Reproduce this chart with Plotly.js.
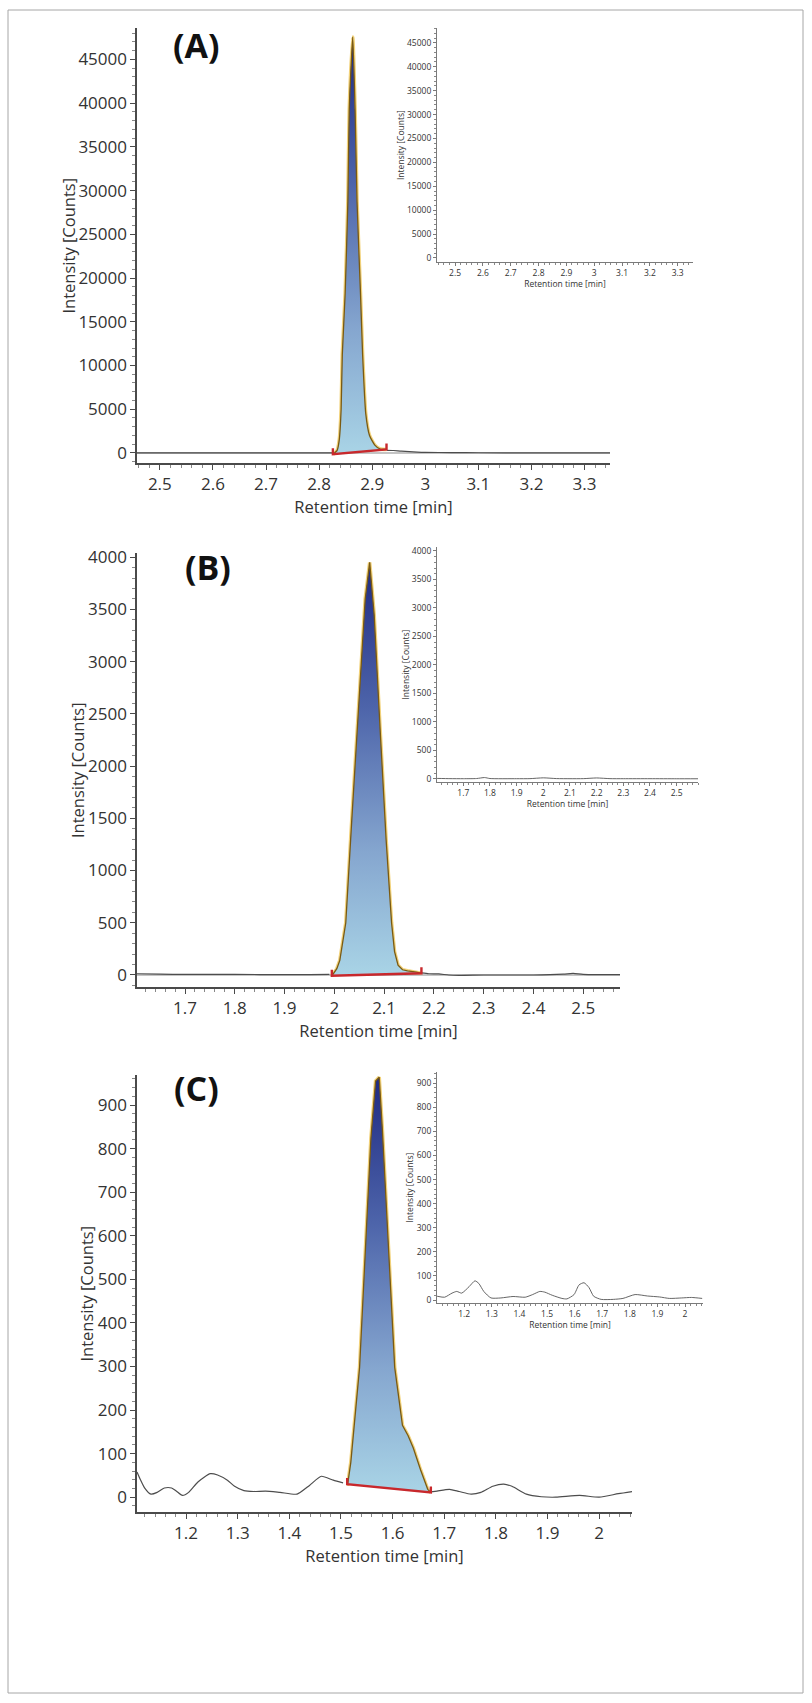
<!DOCTYPE html>
<html><head><meta charset="utf-8">
<script src="https://cdn.plot.ly/plotly-3.0.1.min.js"></script>
<style>html,body{margin:0;padding:0;background:#fff}#chart{width:812px;height:1703px}</style>
</head><body><div id="chart"></div>
<script>
// ---------- DATA ----------
// Panel A chromatogram (retention time [min], intensity [counts])
const chromA_t = [2.457,2.5,2.6,2.7,2.8,2.826,2.834,2.838,2.8415,2.8437,2.8491,2.8542,2.8568,2.8634,2.8678,2.8715,2.878,2.882,2.8879,2.895,2.905,2.915,2.927,2.94,2.955,2.97,2.985,3.0,3.05,3.1,3.2,3.3,3.348];
const chromA_i = [0,0,0,0,0,0,300,1500,5000,11236,18238,28741,39245,47560,39245,28741,18238,11236,4500,2000,900,450,300,280,200,150,100,70,40,20,10,0,0];
const integA_t = [2.826, 2.927];
const integA_b = [-150, 400];

// Panel B chromatogram
const chromB_t = [1.6035,1.65,1.7,1.77,1.8,1.9,1.95,1.99,1.997,2.005,2.011,2.017,2.023,2.035,2.048,2.062,2.071,2.080,2.092,2.104,2.115,2.121,2.128,2.137,2.147,2.156,2.165,2.175,2.19,2.21,2.23,2.25,2.3,2.4,2.46,2.48,2.5,2.574];
const chromB_i = [12,8,5,6,5,4,4,5,5,60,140,300,500,1480,2550,3600,3950,3450,2350,1300,500,224,93,50,40,35,28,20,12,10,0,-3,0,0,8,15,5,3];
const integB_t = [1.995, 2.175];
const integB_b = [-8, 16];
// Panel B inset (blank)
const insetB_t = [1.602,1.65,1.7,1.75,1.78,1.8,1.9,1.95,2.0,2.05,2.1,2.15,2.2,2.25,2.3,2.4,2.5,2.58];
const insetB_i = [10,6,5,8,25,8,5,6,20,7,5,6,18,6,5,5,4,4];

// Panel C chromatogram
const chromC_t = [1.105,1.111,1.120,1.132,1.144,1.158,1.172,1.181,1.193,1.205,1.223,1.247,1.261,1.280,1.294,1.312,1.331,1.354,1.382,1.415,1.439,1.462,1.485,1.504,1.513,1.519,1.527,1.536,1.558,1.567,1.574,1.580,1.604,1.614,1.619,1.630,1.640,1.654,1.668,1.674,1.686,1.710,1.729,1.752,1.771,1.794,1.815,1.831,1.859,1.888,1.916,1.962,2.0,2.037,2.0635];
const chromC_i = [58,42,21,7,11,21,21,14,4,11,35,54,51,39,25,15,13,14,11,7,27,48,39,33,30,80,183,298,825,955,964,846,298,200,165,141,113,63,18,12,14,18,13,7,11,25,30,25,7,1,0,4,0,8,13];
const integC_t = [1.512, 1.674];
const integC_b = [30, 11];
// Panel C inset (blank)
const insetC_t = [1.102,1.129,1.156,1.173,1.191,1.218,1.239,1.253,1.271,1.297,1.333,1.377,1.421,1.448,1.474,1.492,1.519,1.554,1.572,1.598,1.616,1.634,1.652,1.669,1.696,1.740,1.775,1.819,1.864,1.908,1.943,1.988,2.023,2.062];
const insetC_i = [16,12,29,36,29,56,80,69,36,9,9,15,12,23,36,33,20,7,5,23,63,72,52,16,3,3,7,23,17,13,7,9,11,7];

const panelLabels = ['(A)', '(B)', '(C)'];
const xTitle = 'Retention time [min]';
const yTitle = 'Intensity [Counts]';

// ---------- STYLE / LAYOUT ----------
const W = 812, H = 1703;
const FONT = 'Open Sans, sans-serif';
const px = v => v / W, py = v => 1 - v / H;

const panels = [
  {main:{xd:[137,610], yd:[28,463], xr:[2.457,3.348], yr:[-1150,48600], dy:5000, my:1000, zero:true, ty:68},
   inset:{xd:[437,693], yd:[28,262], xr:[2.435,3.355], yr:[-840,48100], dy:5000, my:1000, ty:400},
   t:chromA_t, v:chromA_i, it:integA_t, ib:integA_b, lab:[196,45], inT:null, inV:null, smooth:true},
  {main:{xd:[137,620], yd:[553,987], xr:[1.6035,2.574], yr:[-115,4040], dy:500, my:100, zero:true, ty:77},
   inset:{xd:[437,698], yd:[547,782], xr:[1.6015,2.58], yr:[-53,4070], dy:500, my:100, ty:405},
   t:chromB_t, v:chromB_i, it:integB_t, ib:integB_b, lab:[208,567], inT:insetB_t, inV:insetB_i, smooth:false},
  {main:{xd:[137,632], yd:[1075,1512], xr:[1.105,2.0635], yr:[-34,969], dy:100, my:20, zero:false, ty:86},
   inset:{xd:[437,703], yd:[1072,1303], xr:[1.1015,2.065], yr:[-12,946], dy:100, my:20, ty:409},
   t:chromC_t, v:chromC_i, it:integC_t, ib:integC_b, lab:[196,1088], inT:insetC_t, inV:insetC_i, smooth:false}
];

const layout = {
  width: W, height: H, margin:{l:0,r:0,t:0,b:0}, paper_bgcolor:'#fff', plot_bgcolor:'rgba(0,0,0,0)',
  showlegend:false, font:{family:FONT, color:'#333'},
  shapes:[{type:'rect', xref:'paper', yref:'paper', x0:px(8), x1:px(803), y0:py(1693), y1:py(10),
           line:{color:'#a6a6a6', width:1}}],
  annotations:[]
};
const data = [];

function axisPair(n, cfg, isInset) {
  const xs = n === 1 ? 'xaxis' : 'xaxis' + n, ys = n === 1 ? 'yaxis' : 'yaxis' + n;
  const xa = n === 1 ? 'x' : 'x' + n, ya = n === 1 ? 'y' : 'y' + n;
  const tf = isInset ? 8.5 : 17, ttf = isInset ? 8.5 : 16.5;
  const lc = isInset ? '#7a7a7a' : '#4a4a4a', lw = isInset ? 1 : 1.6;
  layout[xs] = {domain:[px(cfg.xd[0]), px(cfg.xd[1])], range:cfg.xr, anchor:ya, showgrid:false, zeroline:false,
    showline:true, linecolor:lc, linewidth:lw, ticks:'outside', ticklen:isInset?3:5, tickwidth:1, tickcolor:lc,
    dtick:0.1, tick0:0, tickfont:{size:tf, color:'#333', family:FONT},
    minor:{ticks:'outside', ticklen:isInset?2:3, dtick:0.02, tick0:0, tickcolor:'#888', showgrid:false},
    title:{text:xTitle, font:{size:ttf, color:'#333', family:FONT}, standoff:isInset?3:5}, fixedrange:true};
  layout[ys] = {domain:[py(cfg.yd[1]), py(cfg.yd[0])], range:cfg.yr, anchor:xa, showgrid:false,
    zeroline:!!cfg.zero, zerolinecolor:'#c4c4c4', zerolinewidth:2.5,
    showline:true, linecolor:lc, linewidth:lw, ticks:'outside', ticklen:isInset?3:5, tickwidth:1, tickcolor:lc,
    dtick:cfg.dy, tick0:0, tickformat:'d',
    tickfont:{size:tf, color:'#333', family:FONT},
    minor:{ticks:'outside', ticklen:isInset?2:3, dtick:cfg.my, tick0:0, tickcolor:'#888', showgrid:false},
    fixedrange:true};
  // y-axis title placed beside the tick labels
  layout.annotations.push({text:yTitle, textangle:-90, xref:'paper', yref:'paper',
    x:px(cfg.ty), y:py((cfg.yd[0] + cfg.yd[1]) / 2), xanchor:'center', yanchor:'middle', showarrow:false,
    font:{size:ttf, color:'#333', family:FONT}});
  return [xa, ya];
}

panels.forEach((p, k) => {
  const [xa, ya] = axisPair(2*k + 1, p.main, false);
  const [xi, yi] = axisPair(2*k + 2, p.inset, true);
  // chromatogram before and after the integrated peak
  const preX = [], preY = [], postX = [], postY = [];
  p.t.forEach((t, i) => {
    if (t <= p.it[0]) { preX.push(t); preY.push(p.v[i]); }
    if (t >= p.it[1]) { postX.push(t); postY.push(p.v[i]); }
  });
  [[preX, preY], [postX, postY]].forEach(([sx, sy]) =>
    data.push({x:sx, y:sy, xaxis:xa, yaxis:ya, mode:'lines',
      line:{color:'#4d4d4d', width:1.2, shape:'spline', smoothing:0.6}, hoverinfo:'skip'}));
  // integrated peak polygon
  const qx = [p.it[0]], qy = [p.ib[0]];
  p.t.forEach((t, i) => { if (t > p.it[0] && t < p.it[1]) { qx.push(t); qy.push(p.v[i]); } });
  qx.push(p.it[1]); qy.push(p.ib[1]);
  const shape = p.smooth ? 'spline' : 'linear';
  data.push({x:qx, y:qy, xaxis:xa, yaxis:ya, mode:'lines', line:{color:'#f2d27a', width:3.6, shape:shape, smoothing:0.5}, hoverinfo:'skip'});
  const ymax = Math.max(...qy), ymin = Math.min(...qy);
  data.push({x:qx, y:qy, xaxis:xa, yaxis:ya, mode:'lines', fill:'toself', fillcolor:'#6f86bf',
    fillgradient:{type:'vertical', start:ymin, stop:ymax,
      colorscale:[[0,'#a9d4e6'],[0.3,'#85a6cf'],[0.65,'#4d64aa'],[1,'#1f2a82']]},
    line:{color:'#7a5a12', width:1.3, shape:shape, smoothing:0.5}, hoverinfo:'skip'});
  // integration baseline with end marks
  const span = p.main.yr[1] - p.main.yr[0], hPx = p.main.yd[1] - p.main.yd[0];
  const h = 6 * span / hPx;
  data.push({x:[p.it[0], p.it[0], p.it[1], p.it[1]], y:[p.ib[0] + h, p.ib[0], p.ib[1], p.ib[1] + h],
    xaxis:xa, yaxis:ya, mode:'lines', line:{color:'#c8282c', width:2.4}, hoverinfo:'skip'});
  // inset trace
  if (p.inT) data.push({x:p.inT, y:p.inV, xaxis:xi, yaxis:yi, mode:'lines',
    line:{color:'#555', width:0.9, shape:'spline', smoothing:0.6}, hoverinfo:'skip'});
  else data.push({x:[], y:[], xaxis:xi, yaxis:yi, mode:'lines', hoverinfo:'skip'});
  layout.annotations.push({text:'<b>' + panelLabels[k] + '</b>', xref:'paper', yref:'paper',
    x:px(p.lab[0]), y:py(p.lab[1]), xanchor:'center', yanchor:'middle', showarrow:false,
    font:{size:34, color:'#111', family:FONT}});
});

Plotly.newPlot('chart', data, layout, {staticPlot:true, displayModeBar:false});
</script></body></html>
